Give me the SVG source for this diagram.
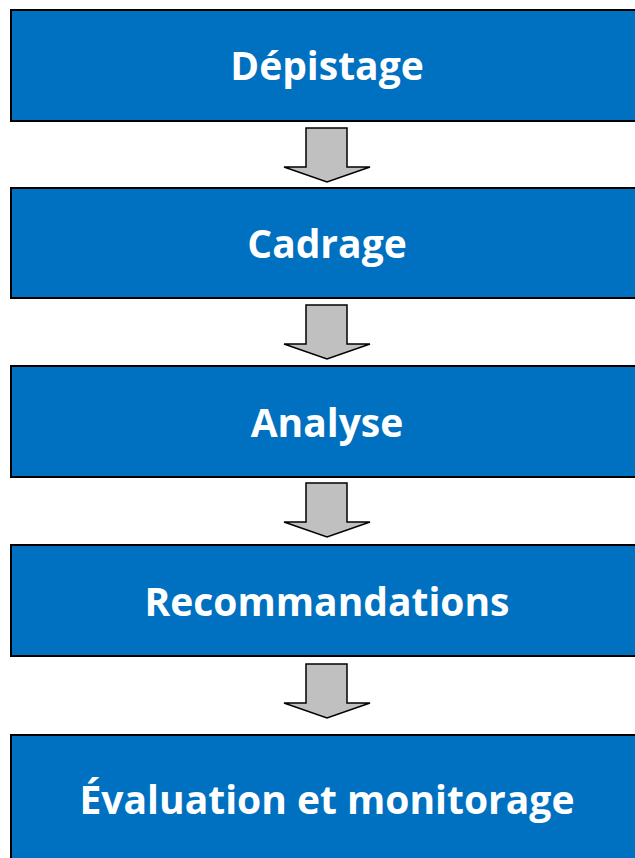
<svg xmlns="http://www.w3.org/2000/svg" width="635" height="858" viewBox="0 0 635 858">
<style>
.box{fill:#0070C0;stroke:#000;stroke-width:2}
.lbl{fill:#fff;font-family:"Open Sans","Noto Sans","Liberation Sans",sans-serif;font-weight:bold;font-size:39px;text-anchor:middle}
.arr{fill:#C0C0C0;stroke:#000;stroke-width:1.5;stroke-linejoin:miter}
</style>
<defs>
<path id="downArrow" class="arr" d="M306,0 H347 V39 H370 L327,54 L284,39 H306 Z"/>
</defs>
<rect width="635" height="858" fill="#fff"/>
<g id="connectors">
<use href="#downArrow" y="128"/>
<use href="#downArrow" y="305"/>
<use href="#downArrow" y="483"/>
<use href="#downArrow" y="664"/>
</g>
<g id="depistage">
<rect class="box" x="11" y="10" width="640" height="111"/>
<text class="lbl" x="327" y="80">Dépistage</text>
</g>
<g id="cadrage">
<rect class="box" x="11" y="188" width="640" height="110"/>
<text class="lbl" x="327" y="258">Cadrage</text>
</g>
<g id="analyse">
<rect class="box" x="11" y="366" width="640" height="111"/>
<text class="lbl" x="327" y="437">Analyse</text>
</g>
<g id="recommandations">
<rect class="box" x="11" y="545" width="640" height="111"/>
<text class="lbl" x="327" y="616">Recommandations</text>
</g>
<g id="evaluation">
<rect class="box" x="11" y="735" width="640" height="140"/>
<text class="lbl" x="327" y="814">Évaluation et monitorage</text>
</g>
</svg>
